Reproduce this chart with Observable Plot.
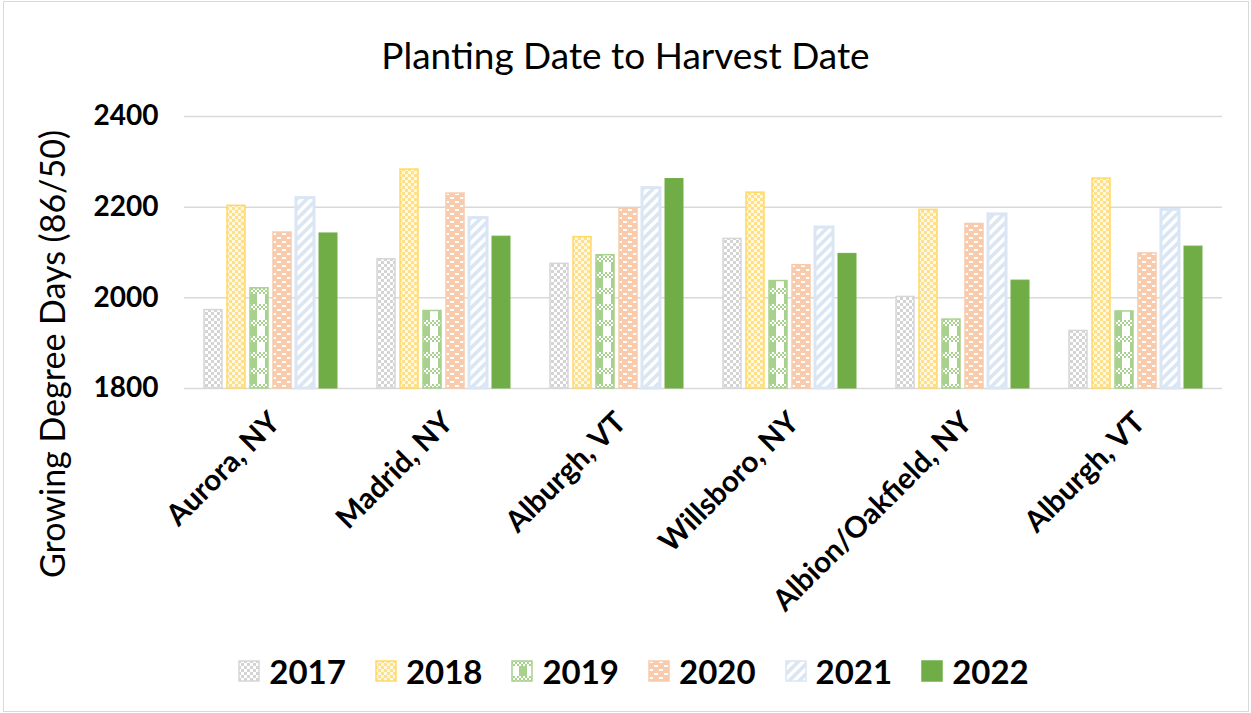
<!DOCTYPE html>
<html><head><meta charset="utf-8">
<script src="https://cdn.jsdelivr.net/npm/d3@7"></script>
<script src="https://cdn.jsdelivr.net/npm/@observablehq/plot@0.6"></script>
<style>
body{margin:0;background:#fff;font-family:Lato,"Open Sans",sans-serif;}
#wrap{position:relative;width:1251px;height:713px;box-sizing:border-box;overflow:hidden;background:#fff}
#frame{position:absolute;left:3px;top:1px;right:2px;bottom:1px;border:1.5px solid #d9d9d9}
#title{position:absolute;top:34px;left:0;width:1251px;text-align:center;font-size:37px;line-height:42px;color:#000}
#ylab{position:absolute;left:51px;top:354px;transform:translate(-50%,-50%) rotate(-90deg);font-size:34px;white-space:nowrap;color:#000}
#chart{position:absolute;left:0;top:0}
#legend{position:absolute;top:651px;left:8px;width:1251px;display:flex;justify-content:center;align-items:center;gap:29px}
.item{display:flex;align-items:center;gap:9px;font-size:33px;font-weight:bold;color:#000}
.item svg{display:block}
#chart text{font-family:Lato,"Open Sans",sans-serif;}
</style>
</head><body>
<svg width="0" height="0" style="position:absolute">
<defs>
<pattern id="p2017" patternUnits="userSpaceOnUse" width="6" height="6">
<rect width="6" height="6" fill="#fff"/><rect width="3" height="3" fill="#d4d4d4"/><rect x="3" y="3" width="3" height="3" fill="#d4d4d4"/>
</pattern>
<pattern id="p2018" patternUnits="userSpaceOnUse" width="6" height="6">
<rect width="6" height="6" fill="#fff8e0"/><rect width="3" height="3" fill="#ffe08a"/><rect x="3" y="3" width="3" height="3" fill="#ffe08a"/>
</pattern>
<pattern id="p2019" patternUnits="userSpaceOnUse" width="16" height="16">
<rect width="16" height="16" fill="#a9d18e"/>
<rect x="0" y="0" width="2" height="2" fill="#fff"/><rect x="4" y="0" width="2" height="2" fill="#fff"/><rect x="8" y="0" width="2" height="2" fill="#fff"/><rect x="12" y="0" width="2" height="2" fill="#fff"/>
<rect x="2" y="2" width="2" height="2" fill="#fff"/><rect x="6" y="2" width="2" height="2" fill="#fff"/><rect x="10" y="2" width="2" height="2" fill="#fff"/><rect x="14" y="2" width="2" height="2" fill="#fff"/>
<rect x="0" y="4" width="2" height="2" fill="#fff"/><rect x="4" y="4" width="2" height="2" fill="#fff"/><rect x="8" y="4" width="2" height="2" fill="#fff"/><rect x="12" y="4" width="2" height="2" fill="#fff"/>
<rect x="0" y="6" width="8" height="10" fill="#fff"/>
</pattern>
<pattern id="p2020" patternUnits="userSpaceOnUse" width="10" height="8">
<rect width="10" height="8" fill="#f8cbad"/><rect x="1" y="1" width="4" height="2" fill="#fff"/><rect x="6" y="5" width="4" height="2" fill="#fff"/>
</pattern>
<pattern id="p2021" patternUnits="userSpaceOnUse" width="10" height="10">
<rect width="10" height="10" fill="#dae6f4"/>
<path d="M-3,13 L13,-3 M-3,3 L3,-3 M7,13 L13,7" stroke="#fff" stroke-width="3.5"/>
</pattern>
</defs>
</svg>
<div id="wrap">
<div id="frame"></div>
<div id="title">Planting Date to Harvest Date</div>
<div id="ylab">Growing Degree Days (86/50)</div>
<div id="chart"></div>
<div id="legend"></div>
</div>
<script>
const sites = ["Aurora, NY","Madrid, NY","Alburgh, VT","Willsboro, NY","Albion/Oakfield, NY","Alburgh, VT"];
const years = ["2017","2018","2019","2020","2021","2022"];
const v2017 = [1973,2085,2075,2130,2002,1927];
const v2018 = [2203,2283,2134,2232,2194,2263];
const v2019 = [2021,1971,2094,2037,1952,1970];
const v2020 = [2144,2230,2197,2072,2163,2098];
const v2021 = [2220,2176,2242,2155,2184,2194];
const v2022 = [2142,2135,2262,2097,2038,2113];
const yTicks = [1800,2000,2200,2400];

const series = {"2017":v2017,"2018":v2018,"2019":v2019,"2020":v2020,"2021":v2021,"2022":v2022};
const styles = {
  "2017":{fill:"url(#p2017)",stroke:"#d6d6d6",sw:1.5},
  "2018":{fill:"url(#p2018)",stroke:"#ffd966",sw:1.5},
  "2019":{fill:"url(#p2019)",stroke:"#a9d18e",sw:1.5},
  "2020":{fill:"url(#p2020)",stroke:"#f8cbad",sw:1.5},
  "2021":{fill:"url(#p2021)",stroke:"#dae6f4",sw:3},
  "2022":{fill:"#70ad47",stroke:"#70ad47",sw:1}
};
const data = [];
years.forEach(y => sites.forEach((s,i) => data.push({site:i, year:y, value:series[y][i]})));

const chart = Plot.plot({
  width:1251, height:640,
  marginLeft:183, marginRight:29, marginTop:116, marginBottom:252,
  style:{fontSize:"28px",fontWeight:"bold",fontFamily:"Lato, 'Open Sans', sans-serif",color:"#000",background:"transparent"},
  fx:{domain:d3.range(sites.length), paddingInner:0, paddingOuter:0, label:null, axis:null},
  x:{domain:years, axis:null, paddingInner:0.2, paddingOuter:0.845},
  y:{domain:[1800,2400], ticks:yTicks, tickFormat:d => String(d), tickSize:0, tickPadding:26, label:null},
  marks:[
    Plot.gridY(yTicks, {stroke:"#d9d9d9", strokeOpacity:1, strokeWidth:1.5}),
    ...years.map(y => Plot.barY(data.filter(d => d.year === y), {
      fx:"site", x:"year", y1:1800, y2:"value",
      fill:styles[y].fill, stroke:styles[y].stroke, strokeWidth:styles[y].sw
    })),
    Plot.axisFx({anchor:"bottom", label:null, tickFormat:i => sites[i], tickRotate:-45, tickSize:0, tickPadding:29, dx:4, fontSize:29.5, fontWeight:"bold"})
  ]
});
document.getElementById("chart").appendChild(chart);

const leg = document.getElementById("legend");
years.forEach(y => {
  const it = document.createElement("div");
  it.className = "item";
  it.innerHTML = `<svg width="22" height="22"><rect x="1" y="1" width="20" height="20" fill="${styles[y].fill}" stroke="${styles[y].stroke}" stroke-width="1.5"/></svg><span>${y}</span>`;
  leg.appendChild(it);
});
</script>
</body></html>
